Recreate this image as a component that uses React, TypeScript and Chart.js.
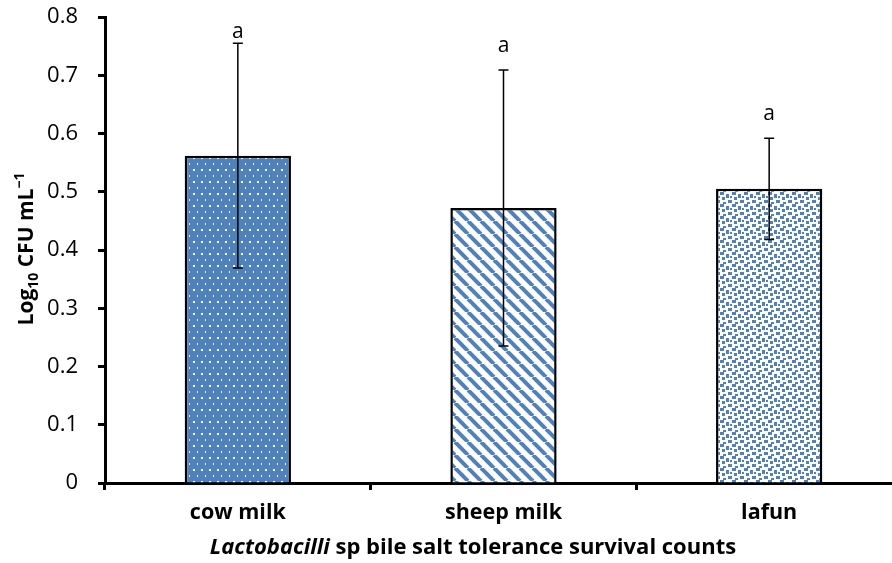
import React, { useEffect, useRef } from "react";
import { Chart, registerables } from "chart.js";

Chart.register(...registerables);

const categories = ["cow milk", "sheep milk", "lafun"];
const means = [0.562, 0.472, 0.505];
const errors = [0.193, 0.237, 0.087];
const letters = ["a", "a", "a"];
const yTicks = [0, 0.1, 0.2, 0.3, 0.4, 0.5, 0.6, 0.7, 0.8];

const BLUE = "#4F81BD";
const FONT = "'Open Sans', Lato, sans-serif";

function makePattern(kind: string): CanvasPattern | string {
  const c = document.createElement("canvas");
  const g = c.getContext("2d");
  if (!g) return BLUE;
  if (kind === "dots") {
    c.width = 8; c.height = 12;
    g.fillStyle = BLUE; g.fillRect(0, 0, 8, 12);
    g.fillStyle = "#ffffff";
    g.fillRect(1, 1, 2, 2);
    g.fillRect(5, 7, 1, 2);
  } else if (kind === "stripes") {
    c.width = 13; c.height = 13;
    g.fillStyle = "#ffffff"; g.fillRect(0, 0, 13, 13);
    g.strokeStyle = BLUE; g.lineWidth = 4;
    for (const off of [-13, 0, 13]) {
      g.beginPath();
      g.moveTo(off, 0);
      g.lineTo(off + 13, 13);
      g.stroke();
    }
  } else {
    c.width = 12; c.height = 12;
    g.fillStyle = "#ffffff"; g.fillRect(0, 0, 12, 12);
    g.fillStyle = BLUE;
    g.fillRect(0, 0, 4, 3);
    g.fillRect(6, 2, 3, 4);
    g.fillRect(2, 5, 3, 3);
    g.fillRect(8, 8, 4, 3);
    g.fillRect(3, 10, 3, 2);
    g.fillRect(10, 4, 2, 2);
  }
  return g.createPattern(c, "repeat") || BLUE;
}

const overlayPlugin = {
  id: "overlay",
  afterDatasetsDraw(chart: any) {
    const ctx = chart.ctx;
    const meta = chart.getDatasetMeta(0);
    const y = chart.scales.y;
    const area = chart.chartArea;
    ctx.save();
    meta.data.forEach((bar: any, i: number) => {
      const x = bar.x;
      const top = y.getPixelForValue(means[i] + errors[i]);
      const bot = y.getPixelForValue(means[i] - errors[i]);
      ctx.strokeStyle = "#000";
      ctx.lineWidth = 1.5;
      ctx.beginPath();
      ctx.moveTo(x, top); ctx.lineTo(x, bot);
      ctx.moveTo(x - 5, top); ctx.lineTo(x + 5, top);
      ctx.moveTo(x - 5, bot); ctx.lineTo(x + 5, bot);
      ctx.stroke();
      const ly = Math.max(top - 24, area.top + 15);
      ctx.fillStyle = "#000";
      ctx.font = `21px ${FONT}`;
      ctx.textAlign = "center";
      ctx.textBaseline = "middle";
      ctx.fillText(letters[i], x, ly);
    });
    ctx.restore();
  },
  afterDraw(chart: any) {
    const ctx = chart.ctx;
    ctx.save();
    ctx.fillStyle = "#000";
    // x title
    const part1 = "Lactobacilli";
    const part2 = " sp bile salt tolerance survival counts";
    ctx.textBaseline = "alphabetic";
    ctx.textAlign = "left";
    ctx.font = `italic bold 22px ${FONT}`;
    const w1 = ctx.measureText(part1).width;
    ctx.font = `bold 22px ${FONT}`;
    const w2 = ctx.measureText(part2).width;
    const cx = 473;
    const sx = cx - (w1 + w2) / 2;
    ctx.font = `italic bold 22px ${FONT}`;
    ctx.fillText(part1, sx, 554);
    ctx.font = `bold 22px ${FONT}`;
    ctx.fillText(part2, sx + w1, 554);

    // y title rotated
    const segs = [
      { t: "Log", size: 21, dy: 0 },
      { t: "10", size: 14, dy: 5 },
      { t: " CFU mL", size: 21, dy: 0 },
      { t: "\u22121", size: 14, dy: -9 },
    ];
    let total = 0;
    for (const s of segs) {
      ctx.font = `bold ${s.size}px ${FONT}`;
      total += ctx.measureText(s.t).width;
    }
    ctx.translate(33, 249);
    ctx.rotate(-Math.PI / 2);
    let px = -total / 2;
    for (const s of segs) {
      ctx.font = `bold ${s.size}px ${FONT}`;
      ctx.fillText(s.t, px, s.dy);
      px += ctx.measureText(s.t).width;
    }
    ctx.restore();
  },
};

export default function App() {
  const ref = useRef<HTMLCanvasElement>(null);
  useEffect(() => {
    if (!ref.current) return;
    const chart = new Chart(ref.current, {
      type: "bar",
      data: {
        labels: categories,
        datasets: [
          {
            data: means,
            backgroundColor: [makePattern("dots"), makePattern("stripes"), makePattern("checks")] as any,
            borderColor: "#000",
            borderWidth: 2.5,
            categoryPercentage: 1,
            barPercentage: 0.4,
          },
        ],
      },
      options: {
        animation: false,
        responsive: true,
        maintainAspectRatio: false,
        layout: { padding: { top: 17, right: 2, left: 0, bottom: 0 } },
        plugins: { legend: { display: false }, tooltip: { enabled: false } },
        scales: {
          x: {
            offset: true,
            grid: {
              offset: true,
              drawOnChartArea: false,
              drawTicks: true,
              tickLength: 7,
              tickWidth: 3,
              tickColor: "#000",
            },
            border: { display: true, color: "#000", width: 3 },
            ticks: {
              color: "#000",
              font: { family: FONT, size: 21.5, weight: "bold" },
              padding: 10,
            },
            afterFit: (s: any) => { s.height = 80; s.paddingLeft = 0; s.paddingRight = 0; },
          },
          y: {
            min: 0,
            max: 0.8,
            afterBuildTicks: (s: any) => { s.ticks = yTicks.map((v) => ({ value: v })); },
            grid: {
              drawOnChartArea: false,
              drawTicks: true,
              tickLength: 7,
              tickWidth: 3,
              tickColor: "#000",
            },
            border: { display: true, color: "#000", width: 3 },
            ticks: {
              color: "#000",
              font: { family: FONT, size: 22 },
              padding: 20,
              callback: (v: any) => (Number(v) === 0 ? "0" : Number(v).toFixed(1)),
            },
            afterFit: (s: any) => { s.width = 105; s.paddingTop = 0; s.paddingBottom = 0; },
          },
        },
      },
      plugins: [overlayPlugin],
    });
    return () => chart.destroy();
  }, []);
  return (
    <div style={{ position: "fixed", left: 0, top: 0, width: 892, height: 563, overflow: "hidden", background: "#fff" }}>
      <div style={{ position: "relative", width: 904, height: 563 }}>
        <canvas ref={ref} />
      </div>
    </div>
  );
}
